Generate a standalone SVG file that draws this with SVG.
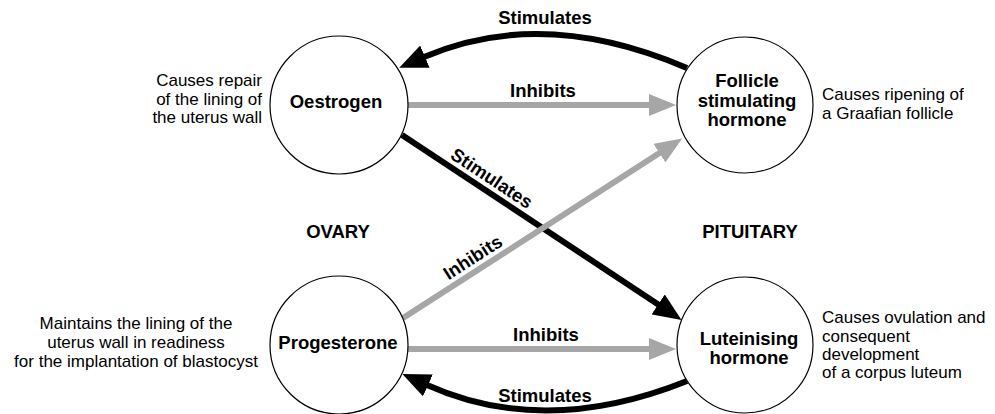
<svg xmlns="http://www.w3.org/2000/svg" width="995" height="414" viewBox="0 0 995 414">
<style>
.node{fill:#fff;stroke:#000;stroke-width:1.2}
.lbl{font-family:"Liberation Sans",Arial,sans-serif;font-weight:bold;font-size:18.5px;fill:#000;text-anchor:middle}
.note{font-family:"Liberation Sans",Arial,sans-serif;font-size:17px;fill:#000}
.blk{fill:none;stroke:#000;stroke-width:6}
.gry{fill:none;stroke:#a6a6a6;stroke-width:6}
</style>
<defs>
<marker id="ab" viewBox="0 -12 28 24" refX="1" refY="0" markerWidth="28" markerHeight="24" markerUnits="userSpaceOnUse" orient="auto"><path d="M0,-12 L28,0 L0,12 z" fill="#000"/></marker>
<marker id="ag" viewBox="0 -11 27 22" refX="1" refY="0" markerWidth="27" markerHeight="22" markerUnits="userSpaceOnUse" orient="auto"><path d="M0,-11 L27,0 L0,11 z" fill="#a6a6a6"/></marker>
</defs>
<g id="connectors">
<path class="blk" d="M687,68 Q543,6 424,57" marker-end="url(#ab)"/>
<path class="gry" d="M408,105 L650,105" marker-end="url(#ag)"/>
<path class="blk" d="M402,135 L659,305" marker-end="url(#ab)"/>
<path class="gry" d="M403,318 L660.3,152.6" marker-end="url(#ag)"/>
<path class="gry" d="M408,349 L650,349" marker-end="url(#ag)"/>
<path class="blk" d="M687,381 Q545,438 427,385" marker-end="url(#ab)"/>
<text class="lbl" x="545" y="24">Stimulates</text>
<text class="lbl" x="543" y="97">Inhibits</text>
<text class="lbl" transform="translate(484.4,189.4) rotate(33.5)" x="0" y="-7">Stimulates</text>
<text class="lbl" transform="translate(479.9,268.6) rotate(-32.7)" x="0" y="-7">Inhibits</text>
<text class="lbl" x="546" y="341">Inhibits</text>
<text class="lbl" x="545" y="402">Stimulates</text>
</g>
<g id="oestrogen">
<circle class="node" cx="339" cy="105" r="69"/>
<text class="lbl" x="336" y="108">Oestrogen</text>
<text class="note" text-anchor="end"><tspan x="262" y="86">Causes repair</tspan><tspan x="262" y="104.5">of the lining of</tspan><tspan x="262" y="123">the uterus wall</tspan></text>
</g>
<g id="fsh">
<circle class="node" cx="745" cy="105" r="68"/>
<text class="lbl"><tspan x="747" y="87">Follicle</tspan><tspan x="747" y="107">stimulating</tspan><tspan x="747" y="126">hormone</tspan></text>
<text class="note"><tspan x="822" y="100">Causes ripening of</tspan><tspan x="822" y="119">a Graafian follicle</tspan></text>
</g>
<g id="progesterone">
<circle class="node" cx="339" cy="345" r="69"/>
<text class="lbl" x="338" y="349">Progesterone</text>
<text class="note" text-anchor="middle"><tspan x="136" y="329">Maintains the lining of the</tspan><tspan x="136" y="348">uterus wall in readiness</tspan><tspan x="136" y="367">for the implantation of blastocyst</tspan></text>
</g>
<g id="lh">
<circle class="node" cx="745" cy="345" r="68"/>
<text class="lbl"><tspan x="749" y="345">Luteinising</tspan><tspan x="749" y="364">hormone</tspan></text>
<text class="note"><tspan x="822" y="323">Causes ovulation and</tspan><tspan x="822" y="342">consequent</tspan><tspan x="822" y="360">development</tspan><tspan x="822" y="378">of a corpus luteum</tspan></text>
</g>
<g id="ovary"><text class="lbl" x="338" y="238">OVARY</text></g>
<g id="pituitary"><text class="lbl" x="750" y="238">PITUITARY</text></g>
</svg>
